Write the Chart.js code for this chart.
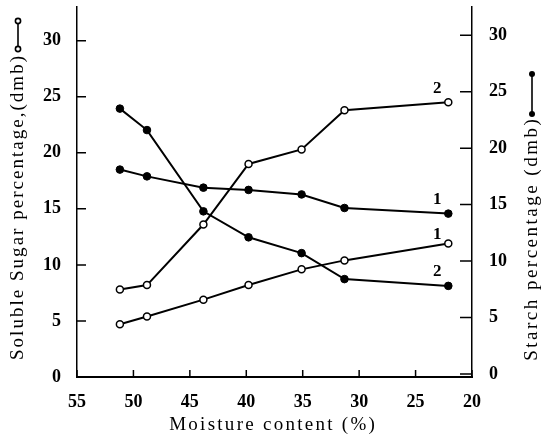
<!DOCTYPE html>
<html lang="en">
<head>
<meta charset="UTF-8">
<title>Soluble sugar and starch vs moisture</title>
<script src="https://cdn.jsdelivr.net/npm/chart.js"></script>
<style>
  html, body { margin: 0; padding: 0; background: #fff; }
  #wrap { width: 548px; height: 436px; }
</style>
</head>
<body>
<div id="wrap"><canvas id="chart"></canvas></div>
<script>
// --- DATA ---
const moisture = [51.2, 48.8, 43.8, 39.8, 35.1, 31.3, 22.1];
const sugarCurve2 = [7.8, 8.2, 13.6, 19.0, 20.3, 23.8, 24.5];
const sugarCurve1 = [4.7, 5.4, 6.9, 8.2, 9.6, 10.4, 11.9];
const starchCurve1 = [18.1, 17.5, 16.5, 16.3, 15.9, 14.7, 14.2];
const starchCurve2 = [23.5, 21.6, 14.4, 12.1, 10.7, 8.4, 7.8];
const moistureTicks = [55, 50, 45, 40, 35, 30, 25, 20];
const percentTicks = [0, 5, 10, 15, 20, 25, 30];
const curveLabels = ['2', '1', '1', '2'];

const FONT = '"Liberation Serif", "Times New Roman", serif';

function pts(ys) {
  return moisture.map((m, i) => ({ x: m, y: ys[i] }));
}

function openSet(ys) {
  return {
    data: pts(ys), yAxisID: 'y',
    borderColor: '#000', borderWidth: 2,
    pointRadius: 3.5, pointBackgroundColor: '#fff',
    pointBorderColor: '#000', pointBorderWidth: 1.5
  };
}
function filledSet(ys) {
  return {
    data: pts(ys), yAxisID: 'y2',
    borderColor: '#000', borderWidth: 2,
    pointRadius: 3.8, pointBackgroundColor: '#000',
    pointBorderColor: '#000', pointBorderWidth: 1
  };
}

// draw text stretched to a given length (spread like the printed figure)
function fitText(ctx, text, cx, cy, len, angle) {
  ctx.save();
  ctx.translate(cx, cy);
  ctx.rotate(angle);
  ctx.letterSpacing = '0px';
  const w = ctx.measureText(text).width;
  const sp = Math.max(0, (len - w) / text.length);
  ctx.letterSpacing = sp + 'px';
  ctx.textAlign = 'center';
  ctx.textBaseline = 'middle';
  ctx.fillText(text, sp / 2, 0);
  ctx.restore();
}

const decor = {
  id: 'decor',
  afterDraw(chart) {
    const { ctx, chartArea: a, scales } = chart;
    ctx.save();
    ctx.strokeStyle = '#000';
    ctx.fillStyle = '#000';
    ctx.lineWidth = 1.5;

    // tick marks, all pointing into the plot
    ctx.beginPath();
    percentTicks.forEach(v => {
      const yl = scales.y.getPixelForValue(v);
      ctx.moveTo(a.left, yl); ctx.lineTo(a.left + 9, yl);
      const yr = scales.y2.getPixelForValue(v);
      ctx.moveTo(a.right - 12, yr); ctx.lineTo(a.right, yr);
    });
    moistureTicks.forEach(v => {
      const x = scales.x.getPixelForValue(v);
      ctx.moveTo(x, a.bottom); ctx.lineTo(x, a.bottom - 7);
    });
    ctx.stroke();

    // curve numbers at the line ends
    ctx.font = 'bold 17px ' + FONT;
    ctx.textAlign = 'center';
    ctx.textBaseline = 'middle';
    chart.data.datasets.forEach((ds, i) => {
      const last = chart.getDatasetMeta(i).data[ds.data.length - 1];
      const dy = i === 1 ? -9 : -14;
      ctx.fillText(curveLabels[i], last.x - 11, last.y + dy);
    });

    // axis titles
    ctx.font = '19px ' + FONT;
    fitText(ctx, 'Soluble Sugar percentage,(dmb)', 18, 208, 306, -Math.PI / 2);
    fitText(ctx, 'Starch percentage (dmb)', 532, 240, 244, -Math.PI / 2);
    fitText(ctx, 'Moisture content (%)', 272, 425, 208, 0);

    // legend glyphs next to the y titles
    ctx.lineWidth = 1.6;
    ctx.beginPath(); ctx.moveTo(18, 24); ctx.lineTo(18, 47); ctx.stroke();
    [21, 49].forEach(y => {
      ctx.beginPath(); ctx.arc(18, y, 2.6, 0, Math.PI * 2);
      ctx.fillStyle = '#fff'; ctx.fill(); ctx.stroke();
    });
    ctx.fillStyle = '#000';
    ctx.beginPath(); ctx.moveTo(532, 74); ctx.lineTo(532, 114); ctx.stroke();
    [74, 114].forEach(y => {
      ctx.beginPath(); ctx.arc(532, y, 3, 0, Math.PI * 2); ctx.fill();
    });
    ctx.restore();
  }
};

const tickFont = { family: FONT, size: 18, weight: 'bold' };

new Chart(document.getElementById('chart'), {
  type: 'line',
  data: {
    datasets: [
      openSet(sugarCurve2),
      openSet(sugarCurve1),
      filledSet(starchCurve1),
      filledSet(starchCurve2)
    ]
  },
  options: {
    responsive: true,
    maintainAspectRatio: false,
    animation: false,
    layout: { padding: { top: 7, left: 0, right: 0, bottom: 0 } },
    plugins: { legend: { display: false }, tooltip: { enabled: false } },
    elements: { line: { tension: 0 } },
    scales: {
      x: {
        type: 'linear', reverse: true, min: 20, max: 55,
        afterBuildTicks: s => { s.ticks = moistureTicks.map(v => ({ value: v })); },
        afterFit: s => { s.height = 59; s.paddingLeft = 0; s.paddingRight = 0; },
        grid: { display: false },
        border: { display: true, color: '#000', width: 2 },
        ticks: { font: tickFont, color: '#000', padding: 7, maxRotation: 0, autoSkip: false }
      },
      y: {
        position: 'left', min: 0, max: 33,
        afterBuildTicks: s => { s.ticks = percentTicks.map(v => ({ value: v })); },
        afterFit: s => { s.width = 77; s.paddingTop = 0; s.paddingBottom = 0; },
        grid: { display: false },
        border: { display: true, color: '#000', width: 1.5 },
        ticks: { font: tickFont, color: '#000', padding: 8 }
      },
      y2: {
        position: 'right', min: -0.27, max: 32.5,
        afterBuildTicks: s => { s.ticks = percentTicks.map(v => ({ value: v })); },
        afterFit: s => { s.width = 76; s.paddingTop = 0; s.paddingBottom = 0; },
        grid: { display: false },
        border: { display: true, color: '#000', width: 1.5 },
        ticks: { font: tickFont, color: '#000', padding: 9 }
      }
    }
  },
  plugins: [decor]
});
</script>
</body>
</html>
